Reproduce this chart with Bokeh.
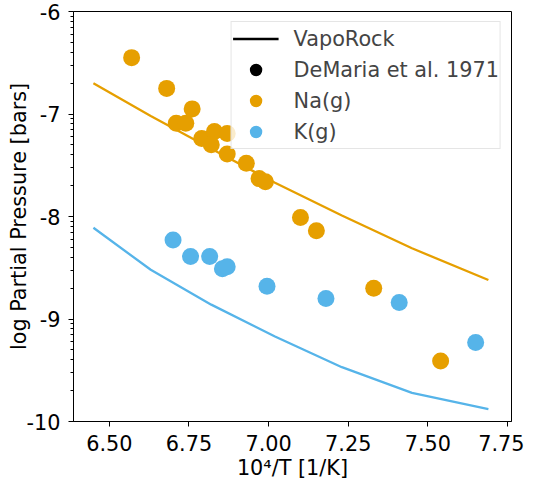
import numpy as np
from bokeh.plotting import figure
from bokeh.models import (Range1d, FixedTicker, CustomJSTickFormatter, Legend,
                          LegendItem, PrintfTickFormatter, Title)
from bokeh.embed import file_html
from bokeh.resources import INLINE

# ---- data ----
# VapoRock model curves
model_x = [6.45, 6.63, 6.82, 7.02, 7.23, 7.45, 7.69]
model_na_logp = [-6.70, -7.02, -7.34, -7.67, -7.99, -8.31, -8.62]
model_k_logp = [-8.11, -8.52, -8.86, -9.17, -9.47, -9.72, -9.88]

# DeMaria et al. 1971 measurements
na_x = [6.57, 6.68, 6.76, 6.71, 6.74, 6.79, 6.83, 6.82, 6.87, 6.87,
        6.93, 6.97, 6.99, 7.10, 7.15, 7.33, 7.54]
na_logp = [-6.45, -6.75, -6.95, -7.09, -7.09, -7.24, -7.17, -7.30, -7.19, -7.39,
           -7.48, -7.63, -7.66, -8.01, -8.14, -8.70, -9.41]
k_x = [6.70, 6.755, 6.815, 6.855, 6.87, 6.995, 7.18, 7.41, 7.65]
k_logp = [-8.23, -8.39, -8.39, -8.51, -8.49, -8.68, -8.80, -8.84, -9.23]

x_ticks = [6.50, 6.75, 7.00, 7.25, 7.50, 7.75]
y_decades = [-10, -9, -8, -7, -6]

NA_COLOR = "#E69F00"
K_COLOR = "#56B4E9"
FONT = "DejaVu Sans"
FS = "20.8px"

p = figure(width=524, height=479, y_axis_type="log",
           x_range=Range1d(6.3875, 7.7625), y_range=Range1d(1e-10, 1e-6),
           output_backend="svg", toolbar_location=None,
           min_border_left=73, min_border_right=13, min_border_top=11,
           min_border_bottom=0)

p.background_fill_color = "white"
p.border_fill_color = "white"
p.outline_line_color = "black"
p.outline_line_width = 1
p.xgrid.visible = False
p.ygrid.visible = False

p.line(model_x, np.power(10.0, model_na_logp), line_color=NA_COLOR, line_width=2.3)
p.line(model_x, np.power(10.0, model_k_logp), line_color=K_COLOR, line_width=2.3)
s_na = p.scatter(na_x, np.power(10.0, na_logp), size=17, fill_color=NA_COLOR, line_color=None)
s_k = p.scatter(k_x, np.power(10.0, k_logp), size=17, fill_color=K_COLOR, line_color=None)

# legend-only proxies (NaN data: nothing drawn in the plot)
proxy_line = p.line([np.nan], [np.nan], line_color="black", line_width=2.3)
proxy_dot = p.scatter([np.nan], [np.nan], size=17, fill_color="black", line_color=None)

legend = Legend(items=[
    LegendItem(label="VapoRock", renderers=[proxy_line]),
    LegendItem(label="DeMaria et al. 1971", renderers=[proxy_dot]),
    LegendItem(label="Na(g)", renderers=[s_na]),
    LegendItem(label="K(g)", renderers=[s_k]),
], location="top_right", margin=10, padding=1, spacing=0,
   glyph_width=46, glyph_height=31, label_standoff=15, label_width=204,
   label_height=31, label_text_font=FONT, label_text_font_size=FS,
   border_line_color="#cccccc", border_line_width=1,
   background_fill_color="white", background_fill_alpha=0.8)
p.add_layout(legend)

# axes
p.xaxis.ticker = FixedTicker(ticks=x_ticks)
p.xaxis.formatter = PrintfTickFormatter(format="%.2f")
p.yaxis.ticker = FixedTicker(
    ticks=[10.0 ** e for e in y_decades],
    minor_ticks=[k * 10.0 ** e for e in y_decades[:-1] for k in range(2, 10)])
p.yaxis.formatter = CustomJSTickFormatter(code="return Math.round(Math.log10(tick)).toString();")

p.yaxis.axis_label = "log Partial Pressure [bars]"

for ax in (p.xaxis, p.yaxis):
    ax.axis_label_text_font = FONT
    ax.axis_label_text_font_size = FS
    ax.axis_label_text_font_style = "normal"
    ax.axis_label_text_color = "black"
    ax.major_label_text_font = FONT
    ax.major_label_text_font_size = FS
    ax.major_label_text_color = "black"
    ax.axis_line_color = "black"
    ax.major_tick_line_color = "black"
    ax.minor_tick_line_color = "black"
    ax.major_tick_out = 5
    ax.major_tick_in = 0
    ax.minor_tick_out = 3
    ax.minor_tick_in = 0

p.xaxis.minor_tick_line_color = None
p.xaxis.major_label_standoff = 8
p.yaxis.major_label_standoff = 8
p.yaxis.axis_label_standoff = -7

# x-axis title as a title panel below the axis
p.add_layout(Title(text="10\u2074/T [1/K]", align="center", vertical_align="bottom",
                   text_font=FONT, text_font_size=FS, text_font_style="normal",
                   text_color="black", standoff=0), "below")

open("out.html", "w").write(file_html(p, INLINE))
